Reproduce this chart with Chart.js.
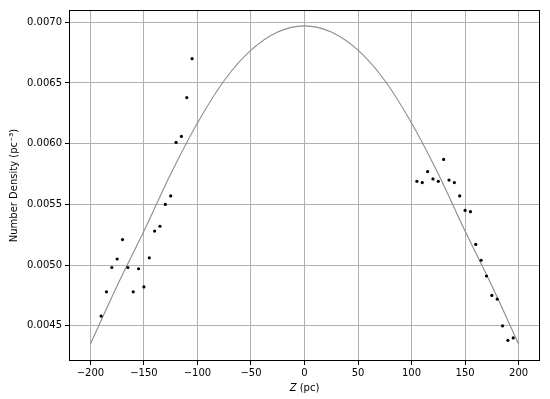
<!DOCTYPE html>
<html>
<head>
<meta charset="utf-8">
<script src="https://cdn.jsdelivr.net/npm/chart.js@4"></script>
<style>
  html, body { margin: 0; padding: 0; background: #fff; }
  #wrap { width: 550px; height: 399px; }
</style>
</head>
<body>
<div id="wrap"><canvas id="density"></canvas></div>
<script>
// fitted model curve
const zCurve = [-200, -175, -150, -125, -100, -75, -50, -25, 0, 25, 50, 75, 100, 125, 150, 175, 200];
const nCurve = [0.00435, 0.00483, 0.00528, 0.00575, 0.00617, 0.00652, 0.00677, 0.00692, 0.00697,
                0.00692, 0.00677, 0.00652, 0.00617, 0.00575, 0.00528, 0.00483, 0.00435];

// measured points, below the plane
const zSouth = [-190, -185, -180, -175, -170, -165, -160, -155, -150, -145, -140, -135, -130, -125, -120, -115, -110, -105];
const nSouth = [0.00458, 0.00478, 0.00498, 0.00505, 0.00521, 0.00498, 0.00478, 0.00497, 0.00482,
                0.00506, 0.00528, 0.00532, 0.00550, 0.00557, 0.00601, 0.00606, 0.00638, 0.00670];

// measured points, above the plane
const zNorth = [105, 110, 115, 120, 125, 130, 135, 140, 145, 150, 155, 160, 165, 170, 175, 180, 185, 190, 195];
const nNorth = [0.00569, 0.00568, 0.00577, 0.00571, 0.00569, 0.00587, 0.00570, 0.00568, 0.00557, 0.00545,
                0.00544, 0.00517, 0.00504, 0.00491, 0.00475, 0.00472, 0.00450, 0.00438, 0.00440];

const xTicks = [-200, -150, -100, -50, 0, 50, 100, 150, 200];
const yTicks = [0.0045, 0.0050, 0.0055, 0.0060, 0.0065, 0.0070];

const toXY = (xs, ys) => xs.map((x, i) => ({ x: x, y: ys[i] }));
const minus = s => s.replace('-', '\u2212');

const frame = {
    id: 'frame',
    afterDraw(chart) {
        const a = chart.chartArea, c = chart.ctx;
        c.save();
        c.strokeStyle = '#000';
        c.lineWidth = 1;
        c.strokeRect(Math.round(a.left) + 0.5, Math.round(a.top) + 0.5,
                     Math.round(a.right - a.left) - 1, Math.round(a.bottom - a.top) - 1);
        // x axis title with italic Z
        c.fillStyle = '#000';
        c.textBaseline = 'middle';
        const cx = (a.left + a.right) / 2, y = 388;
        c.font = 'italic 10px "DejaVu Sans"';
        const w1 = c.measureText('Z').width;
        c.font = '10px "DejaVu Sans"';
        const w2 = c.measureText(' (pc)').width;
        const x0 = cx - (w1 + w2) / 2;
        c.textAlign = 'left';
        c.font = 'italic 10px "DejaVu Sans"';
        c.fillText('Z', x0, y);
        c.font = '10px "DejaVu Sans"';
        c.fillText(' (pc)', x0 + w1, y);
        c.restore();
    }
};

Chart.defaults.font.family = '"DejaVu Sans", sans-serif';
Chart.defaults.font.size = 10;
Chart.defaults.color = '#000';

new Chart(document.getElementById('density'), {
    type: 'scatter',
    data: {
        datasets: [{
            label: 'model',
            data: toXY(zCurve, nCurve),
            showLine: true,
            borderColor: '#8c8c8c',
            borderWidth: 1.1,
            pointRadius: 0,
            cubicInterpolationMode: 'monotone',
            order: 2
        }, {
            label: 'south',
            data: toXY(zSouth, nSouth),
            backgroundColor: '#000',
            borderWidth: 0,
            pointRadius: 1.6,
            order: 1
        }, {
            label: 'north',
            data: toXY(zNorth, nNorth),
            backgroundColor: '#000',
            borderWidth: 0,
            pointRadius: 1.6,
            order: 1
        }]
    },
    options: {
        responsive: true,
        maintainAspectRatio: false,
        animation: false,
        layout: { padding: { top: 10, right: 10, left: 0, bottom: 0 } },
        plugins: {
            legend: { display: false },
            tooltip: { enabled: false }
        },
        scales: {
            x: {
                type: 'linear',
                min: -220,
                max: 220,
                afterBuildTicks: s => { s.ticks = xTicks.map(v => ({ value: v })); },
                afterFit: s => { s.height = 38; },
                ticks: {
                    padding: 2,
                    maxRotation: 0,
                    callback: v => minus(String(v))
                },
                grid: { color: '#b0b0b0', lineWidth: 1, tickColor: '#000', tickLength: 4 },
                border: { display: false }
            },
            y: {
                type: 'linear',
                min: 0.00421,
                max: 0.007101,
                afterBuildTicks: s => { s.ticks = yTicks.map(v => ({ value: v })); },
                afterFit: s => { s.width = 69; },
                ticks: {
                    padding: 3,
                    callback: v => v.toFixed(4)
                },
                title: {
                    display: true,
                    text: 'Number Density (pc\u207B\u00B3)',
                    padding: { top: 8, bottom: 0 }
                },
                grid: { color: '#b0b0b0', lineWidth: 1, tickColor: '#000', tickLength: 4 },
                border: { display: false }
            }
        }
    },
    plugins: [frame]
});
</script>
</body>
</html>
